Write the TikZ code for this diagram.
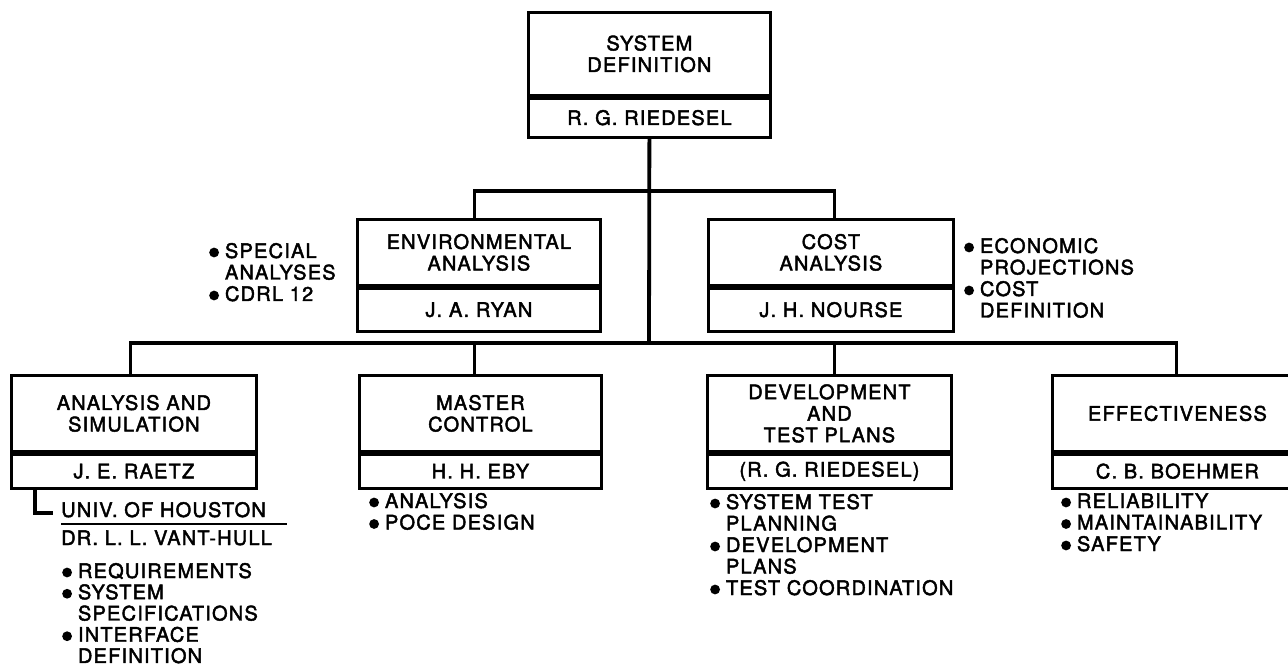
\documentclass[tikz,border=0pt]{standalone}
\usepackage{fontspec}
\setmainfont{TeX Gyre Heros}[LetterSpace=6, FakeBold=2.2]
\usetikzlibrary{calc}

% filled round bullet used in the task lists
\newcommand{\bul}{\tikz[baseline=-5.5pt]\fill (0,0) circle (4.9pt);}
% bulleted list with hanging indent; baseline is that of the first row
\newcommand{\blist}[1]{\begin{tabular}[t]{@{}l@{\hspace{6pt}}l@{}}#1\end{tabular}}

\tikzset{
  txt/.style={font=\fontsize{20}{21.5}\selectfont, inner sep=0pt},
  ttl/.style={txt, draw, line width=2.8pt, align=center, anchor=north west},
  nme/.style={txt, draw, line width=2.8pt, align=center, anchor=north},
  conn/.style={line width=3.8pt},
  lst/.style={txt, anchor=base west},
}

\begin{document}
\begin{tikzpicture}[x=1pt, y=-1pt]
\useasboundingbox (0,0) rectangle (1288,668);
\clip (0,0) rectangle (1288,668);

% top level
\node[ttl, minimum width=242pt, minimum height=83pt] (topT) at (527,11) {SYSTEM\\DEFINITION};
\node[nme, minimum width=242pt, minimum height=39pt] (topN) at (topT.south) {R. G. RIEDESEL};

% staff level
\node[ttl, minimum width=243pt, minimum height=66pt] (envT) at (356,218) {ENVIRONMENTAL\\ANALYSIS};
\node[nme, minimum width=243pt, minimum height=43pt] (envN) at (envT.south) {J. A. RYAN};

\node[ttl, minimum width=245pt, minimum height=66pt] (costT) at (707,218) {COST\\ANALYSIS};
\node[nme, minimum width=245pt, minimum height=43pt] (costN) at (costT.south) {J. H. NOURSE};

% line level
\node[ttl, minimum width=245pt, minimum height=76pt] (anT) at (10,374) {ANALYSIS AND\\SIMULATION};
\node[nme, minimum width=245pt, minimum height=34pt] (anN) at (anT.south) {J. E. RAETZ};

\node[ttl, minimum width=242pt, minimum height=76pt] (maT) at (358,374) {MASTER\\CONTROL};
\node[nme, minimum width=242pt, minimum height=34pt] (maN) at (maT.south) {H. H. EBY};

\node[ttl, minimum width=244pt, minimum height=76pt] (devT) at (706,374) {DEVELOPMENT\\AND\\TEST PLANS};
\node[nme, minimum width=244pt, minimum height=34pt] (devN) at (devT.south) {(R. G. RIEDESEL)};

\node[ttl, minimum width=250pt, minimum height=76pt] (effT) at (1051,374) {EFFECTIVENESS};
\node[nme, minimum width=250pt, minimum height=34pt] (effN) at (effT.south) {C. B. BOEHMER};

% connectors
\coordinate (bus1) at (649,191);
\coordinate (bus2) at (649,343);
\draw[conn] (topN.south) -- (bus2);
\draw[conn] ([xshift=-4.5pt]envT.north) |- (bus1) -| ([xshift=3.5pt]costT.north);
\draw[conn] ([xshift=-3.5pt]anT.north) |- (bus2) -| ([xshift=-1pt]effT.north);
\draw[conn] ([xshift=-6pt]maT.north) -- ([xshift=-6pt]maT.north |- bus2);
\draw[conn] ([xshift=5pt]devT.north) -- ([xshift=5pt]devT.north |- bus2);

% subcontractor
\coordinate (uh) at (53,513);
\draw[conn] ([xshift=25pt]anN.south west) |- (uh);
\node[lst] (univ) at (61,517) {UNIV. OF HOUSTON};
\draw[line width=1.5pt] ([yshift=-7pt]univ.base west) -- ++(226,0);
\node[lst] (dr) at (61,545) {DR. L. L. VANT-HULL};

% task lists
\node[lst] (envL) at (209,258) {\blist{\bul & SPECIAL\\ & ANALYSES\\ \bul & CDRL 12}};
\node[lst] (costL) at (964,253) {\blist{\bul & ECONOMIC\\ & PROJECTIONS\\ \bul & COST\\ & DEFINITION}};
\node[lst, font=\fontsize{20}{21}\selectfont] (anL) at (62,578) {\blist{\bul & REQUIREMENTS\\ \bul & SYSTEM\\ & SPECIFICATIONS\\ \bul & INTERFACE\\ & DEFINITION}};
\node[lst] (maL) at (369,508) {\blist{\bul & ANALYSIS\\ \bul & POCE DESIGN}};
\node[lst] (devL) at (710,509) {\blist{\bul & SYSTEM TEST\\ & PLANNING\\ \bul & DEVELOPMENT\\ & PLANS\\ \bul & TEST COORDINATION}};
\node[lst] (effL) at (1061,508) {\blist{\bul & RELIABILITY\\ \bul & MAINTAINABILITY\\ \bul & SAFETY}};
\end{tikzpicture}
\end{document}
